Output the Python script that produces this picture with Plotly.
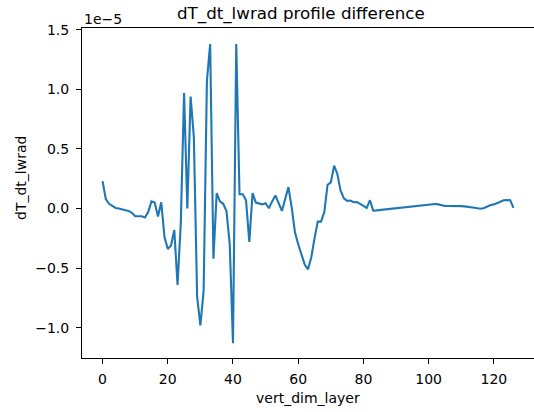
import plotly.graph_objects as go

# vertical layer index
layers = list(range(127))
# dT_dt_lwrad difference, in units of 1e-5
diff_e5 = [
    0.23, 0.08, 0.04, 0.02, 0.005, 0.0, -0.01, -0.015, -0.02, -0.035,
    -0.065, -0.065, -0.065, -0.075, -0.03, 0.06, 0.05, -0.067, 0.053, -0.24,
    -0.34, -0.31, -0.18, -0.64, -0.12, 0.97, 0.0, 0.94, 0.6, -0.74,
    -0.98, -0.69, 1.07, 1.38, -0.42, 0.13, 0.06, 0.04, -0.02, -0.3,
    -1.13, 1.38, 0.12, 0.12, 0.07, -0.28, 0.13, 0.05, 0.045, 0.035,
    0.045, 0.003, 0.06, 0.11, 0.045, -0.02, 0.08, 0.18, 0.01, -0.2,
    -0.3, -0.39, -0.47, -0.51, -0.41, -0.25, -0.11, -0.11, -0.03, 0.2,
    0.22, 0.36, 0.29, 0.15, 0.086, 0.065, 0.067, 0.053, 0.055, 0.04,
    0.025, 0.005, 0.07, -0.017, -0.015, -0.012, -0.01, -0.007, -0.005, -0.002,
    0.0, 0.003, 0.006, 0.009, 0.012, 0.015, 0.018, 0.021, 0.024, 0.027,
    0.03, 0.034, 0.038, 0.035, 0.028, 0.022, 0.022, 0.023, 0.023, 0.022,
    0.02, 0.018, 0.016, 0.012, 0.007, 0.002, -0.002, 0.005, 0.02, 0.03,
    0.035, 0.045, 0.055, 0.07, 0.072, 0.07, 0.005,
]
x_ticks = [0, 20, 40, 60, 80, 100, 120]
y_ticks = [-1.0, -0.5, 0.0, 0.5, 1.0, 1.5]

title_text = "dT_dt_lwrad profile difference"
x_label = "vert_dim_layer"
y_label = "dT_dt_lwrad"
offset_text = "1e\u22125"

W, H = 534, 412
L, R, T, B = 82, 0, 28, 54
pw, ph = W - L - R, H - T - B

def px(xp):
    return (xp - L) / pw

def py(yp):
    return (H - B - yp) / ph

FONT = "DejaVu Sans"

fig = go.Figure()
fig.add_trace(go.Scatter(x=layers, y=diff_e5, mode="lines",
                         line=dict(color="#1f77b4", width=2.1), hoverinfo="skip"))

fig.update_layout(
    width=W, height=H,
    margin=dict(l=L, r=R, t=T, b=B, pad=0, autoexpand=False),
    paper_bgcolor="white", plot_bgcolor="white",
    showlegend=False,
    font=dict(family=FONT, size=14, color="black"),
    xaxis=dict(range=[-6.3, 132.3], tickvals=x_ticks, ticks="outside", ticklen=5,
               tickcolor="black", tickwidth=1, showline=True, linecolor="black",
               linewidth=1, mirror=True, showgrid=False, zeroline=False,
               tickfont=dict(family=FONT, size=14, color="black"),
               ticklabelstandoff=3, automargin=False),
    yaxis=dict(range=[-1.254, 1.515], tickvals=y_ticks, tickformat=".1f",
               ticks="outside", ticklen=5, tickcolor="black", tickwidth=1,
               showline=True, linecolor="black", linewidth=1, mirror=False,
               showgrid=False, zeroline=False,
               tickfont=dict(family=FONT, size=14, color="black"),
               ticklabelstandoff=4, automargin=False),
    annotations=[
        dict(text=title_text, x=px(301), y=py(14), xref="paper", yref="paper",
             xanchor="center", yanchor="middle", showarrow=False,
             font=dict(family=FONT, size=16.7, color="black")),
        dict(text=offset_text, x=px(82), y=py(19), xref="paper", yref="paper",
             xanchor="left", yanchor="middle", showarrow=False,
             font=dict(family=FONT, size=14, color="black")),
        dict(text=x_label, x=px(308), y=py(398), xref="paper", yref="paper",
             xanchor="center", yanchor="middle", showarrow=False,
             font=dict(family=FONT, size=14, color="black")),
        dict(text=y_label, x=px(21), y=py(178), xref="paper", yref="paper",
             xanchor="center", yanchor="middle", showarrow=False, textangle=-90,
             font=dict(family=FONT, size=14, color="black")),
    ],
)

fig.write_html("out.html", config={"displayModeBar": False},
               post_script="document.body.style.margin='0px';document.body.style.padding='0px';")
